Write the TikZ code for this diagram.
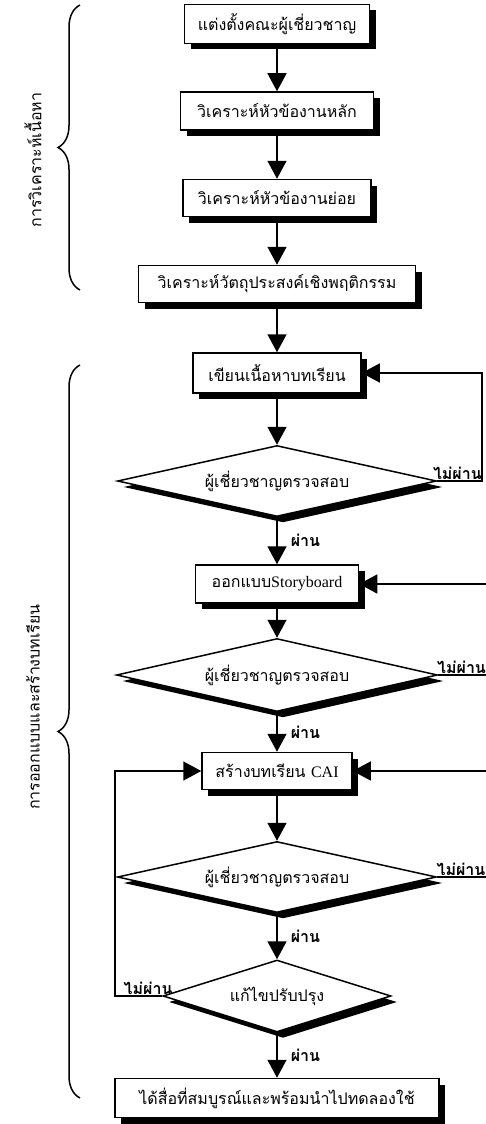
\documentclass[tikz,border=0pt]{standalone}
\usepackage{fontspec}
\setmainfont{Liberation Serif}
\newfontfamily\thaifont[Script=Thai]{Loma}
\usetikzlibrary{arrows.meta,shapes.geometric,shadows,decorations.pathreplacing}

\begin{document}
\begin{tikzpicture}[x=1pt, y=-1pt,
        arrow/.style = {line width=1.5pt, -{Triangle[length=18pt,width=19pt]}},
        shade/.style = {drop shadow={shadow xshift=6pt, shadow yshift=-6pt, fill=black, opacity=1}},
        box/.style = {draw, line width=1.5pt, fill=white, inner sep=0pt, shade,
            font=\thaifont\fontsize{16}{18}\selectfont},
        check/.style = {draw, diamond, aspect=4.5, line width=1.5pt, fill=white, inner sep=0pt, shade,
            font=\thaifont\fontsize{16}{18}\selectfont},
        lbl/.style = {font=\thaifont\bfseries\fontsize{16}{18}\selectfont, inner sep=1pt},
        side/.style = {rotate=90, font=\thaifont\fontsize{16}{18}\selectfont},
        brace/.style = {line width=1.5pt, decorate, decoration={brace, amplitude=22pt}}]
    \useasboundingbox (0,0) rectangle (486,1124);

    % steps
    \node[box, minimum width=185, minimum height=39] (b1) at (277,24) {แต่งตั้งคณะผู้เชี่ยวชาญ};
    \node[box, minimum width=193, minimum height=38] (b2) at (277,111) {วิเคราะห์หัวข้องานหลัก};
    \node[box, minimum width=188, minimum height=37] (b3) at (277,198) {วิเคราะห์หัวข้องานย่อย};
    \node[box, minimum width=277, minimum height=37] (b4) at (277,284) {วิเคราะห์วัตถุประสงค์เชิงพฤติกรรม};
    \node[box, minimum width=168, minimum height=40] (b5) at (277,373) {เขียนเนื้อหาบทเรียน};
    \node[check, minimum width=319, minimum height=71] (d1) at (277,481) {ผู้เชี่ยวชาญตรวจสอบ};
    \node[box, minimum width=163, minimum height=38] (b6) at (277,584) {ออกแบบ{\rmfamily Storyboard}};
    \node[check, minimum width=321, minimum height=73] (d2) at (277,675) {ผู้เชี่ยวชาญตรวจสอบ};
    \node[box, minimum width=150, minimum height=37] (b7) at (277,771) {สร้างบทเรียน {\rmfamily CAI}};
    \node[check, minimum width=319, minimum height=71] (d3) at (277,877) {ผู้เชี่ยวชาญตรวจสอบ};
    \node[check, minimum width=228, minimum height=72] (d4) at (277,996) {แก้ไขปรับปรุง};
    \node[box, minimum width=324, minimum height=39] (b8) at (277,1098) {ได้สื่อที่สมบูรณ์และพร้อมนำไปทดลองใช้};

    % main flow
    \draw[arrow] (b1) -- (b2);
    \draw[arrow] (b2) -- (b3);
    \draw[arrow] (b3) -- (b4);
    \draw[arrow] (b4) -- (b5);
    \draw[arrow] (b5) -- (d1);
    \draw[arrow] (d1) -- node[lbl, right=12pt] {ผ่าน} (b6);
    \draw[arrow] (b6) -- (d2);
    \draw[arrow] (d2) -- node[lbl, right=12pt] {ผ่าน} (b7);
    \draw[arrow] (b7) -- (d3);
    \draw[arrow] (d3) -- node[lbl, right=12pt] {ผ่าน} (d4);
    \draw[arrow] (d4) -- node[lbl, right=12pt] {ผ่าน} (b8);

    % loops back
    \coordinate (r1) at (482,481);
    \coordinate (r2) at (490,675);
    \coordinate (r3) at (490,877);
    \coordinate (l4) at (115,996);
    \draw[arrow] (d1.east) -- node[lbl, above, pos=0.45] {ไม่ผ่าน} (r1) |- (b5.east);
    \draw[arrow] (d2.east) -- node[lbl, above, pos=0.45] {ไม่ผ่าน} (r2) |- (b6.east);
    \draw[arrow] (d3.east) -- node[lbl, above, pos=0.45] {ไม่ผ่าน} (r3) |- (b7.east);
    \draw[arrow] (d4.west) -- node[lbl, above, pos=0.3] {ไม่ผ่าน} (l4) |- (b7.west);

    % phases
    \draw[brace] (80,290) -- (80,5);
    \draw[brace] (80,1098) -- (80,365);
    \node[side] (content) at (33,160) {การวิเคราะห์เนื้อหา};
    \node[side] (design) at (33,707) {การออกแบบและสร้างบทเรียน};
\end{tikzpicture}
\end{document}
